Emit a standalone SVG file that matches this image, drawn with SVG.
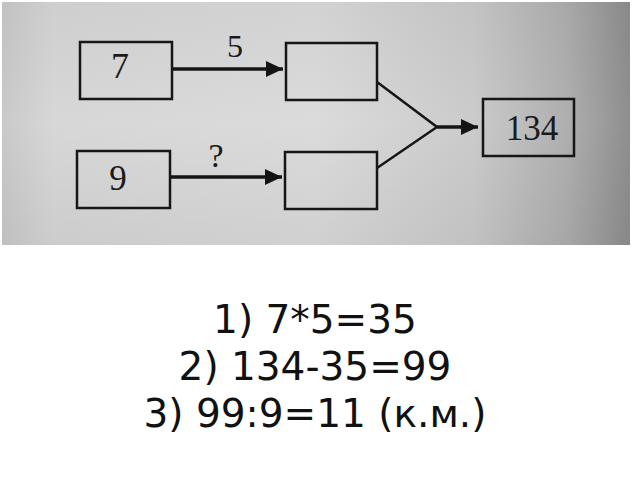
<svg xmlns="http://www.w3.org/2000/svg" width="640" height="480" viewBox="0 0 640 480">
  <defs>
    <linearGradient id="bg" x1="0" y1="0" x2="1" y2="0">
      <stop offset="0" stop-color="#c9c9c9"/>
      <stop offset="0.08" stop-color="#d7d7d7"/>
      <stop offset="0.5" stop-color="#dbdbdb"/>
      <stop offset="0.75" stop-color="#cbcbcb"/>
      <stop offset="0.9" stop-color="#afafaf"/>
      <stop offset="1" stop-color="#8e8e8e"/>
    </linearGradient>
    <linearGradient id="shade" x1="0" y1="0" x2="0" y2="1">
      <stop offset="0" stop-color="#000" stop-opacity="0.04"/>
      <stop offset="0.5" stop-color="#000" stop-opacity="0"/>
      <stop offset="1" stop-color="#000" stop-opacity="0.05"/>
    </linearGradient>
    <marker id="ah" viewBox="0 0 17 16" refX="17" refY="8" markerWidth="17" markerHeight="16" markerUnits="userSpaceOnUse" orient="auto">
      <path d="M0,0 L17,8 L0,16 z" fill="#141414"/>
    </marker>
    <style>
      .box { fill: none; stroke: #161616; stroke-width: 2.5; }
      .num { font-family: "Liberation Serif", "Times New Roman", serif; fill: #1a1a1a; text-anchor: middle; }
      .arr { stroke: #141414; stroke-width: 3.5; fill: none; }
      .ln { stroke: #161616; stroke-width: 2.5; fill: none; }
      .sol { font-family: "DejaVu Sans", sans-serif; font-size: 39px; fill: #111; text-anchor: middle; }
    </style>
  </defs>
  <rect x="0" y="0" width="640" height="480" fill="#ffffff"/>
  <rect x="2" y="2" width="628" height="243" fill="url(#bg)"/>
  <rect x="2" y="2" width="628" height="243" fill="url(#shade)"/>

  <g id="connectors">
    <line class="arr" x1="172" y1="69" x2="283" y2="69" marker-end="url(#ah)"/>
    <line class="arr" x1="170" y1="177" x2="282" y2="177" marker-end="url(#ah)"/>
    <polyline class="ln" points="377,82 437,127 377,168"/>
    <line class="arr" x1="437" y1="127" x2="478" y2="127" marker-end="url(#ah)"/>
    <text class="num" x="235" y="57" font-size="32">5</text>
    <text class="num" x="216" y="167" font-size="34">?</text>
  </g>

  <g id="node-7">
    <rect class="box" x="80" y="42" width="92" height="57"/>
    <text class="num" x="120" y="78" font-size="36">7</text>
  </g>
  <g id="node-9">
    <rect class="box" x="77" y="151" width="93" height="57"/>
    <text class="num" x="118" y="190" font-size="35">9</text>
  </g>
  <g id="node-top">
    <rect class="box" x="286" y="43" width="91" height="57"/>
  </g>
  <g id="node-bottom">
    <rect class="box" x="285" y="152" width="92" height="57"/>
  </g>
  <g id="node-134">
    <rect class="box" x="483" y="99" width="91" height="57"/>
    <text class="num" x="532" y="140" font-size="35">134</text>
  </g>

  <g id="solution">
    <text class="sol" x="315" y="333">1) 7*5=35</text>
    <text class="sol" x="315" y="380">2) 134-35=99</text>
    <text class="sol" x="315" y="427">3) 99:9=11 (к.м.)</text>
  </g>
</svg>
